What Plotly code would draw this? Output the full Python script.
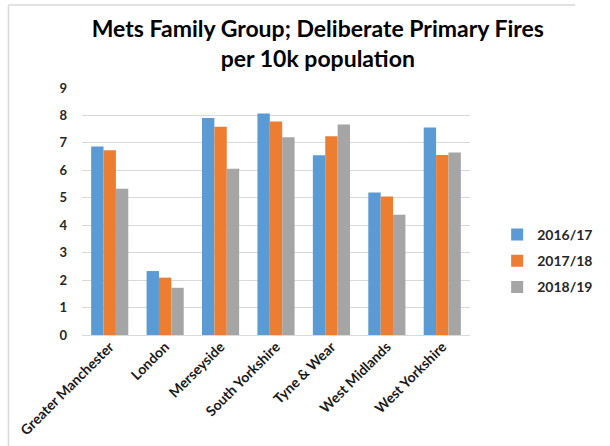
import plotly.graph_objects as go

categories = ["Greater Manchester", "London", "Merseyside", "South Yorkshire",
              "Tyne & Wear", "West Midlands", "West Yorkshire"]
series_names = ["2016/17", "2017/18", "2018/19"]
values_2016_17 = [6.87, 2.33, 7.91, 8.07, 6.55, 5.19, 7.56]
values_2017_18 = [6.73, 2.09, 7.59, 7.78, 7.24, 5.05, 6.56]
values_2018_19 = [5.33, 1.72, 6.06, 7.21, 7.67, 4.38, 6.65]
colors = ["#5B9BD5", "#ED7D31", "#A5A5A5"]

FONT = "Lato"

fig = go.Figure()
for name, vals, col in zip(series_names, [values_2016_17, values_2017_18, values_2018_19], colors):
    fig.add_trace(go.Bar(name="<b>" + name + "</b>", legendgroup=name, x=categories, y=vals,
                         marker=dict(color=col, line=dict(width=0))))

fig.update_layout(
    width=610, height=446,
    margin=dict(l=82, r=111, t=88, b=111),
    paper_bgcolor="white", plot_bgcolor="white",
    barmode="group", bargap=0.33, bargroupgap=0,
    font=dict(family=FONT, color="#262626"),
    title=dict(
        text="<b>Mets Family Group; Deliberate Primary Fires<br>per 10k population</b>",
        x=0.521, xref="container", xanchor="center",
        y=0.916, yref="container", yanchor="bottom",
        font=dict(family=FONT, size=23, color="#000000"),
    ),
    legend=dict(
        x=1.07, xanchor="left", y=0.30, yanchor="middle",
        font=dict(family=FONT, size=14, color="#262626"),
        itemwidth=30, tracegroupgap=5,
        bgcolor="rgba(0,0,0,0)",
    ),
    xaxis=dict(
        tickangle=-45, showgrid=False, showline=False, zeroline=False, ticks="",
        automargin=False,
        tickmode="array", tickvals=categories, ticktext=["<b>" + c + "</b>" for c in categories],
        tickfont=dict(family=FONT, size=14, color="#1A1A1A", weight="bold"),
    ),
    yaxis=dict(
        range=[0, 9], dtick=1, showgrid=True, gridcolor="#D9D9D9", gridwidth=1,
        zeroline=True, zerolinecolor="#D9D9D9", zerolinewidth=1, showline=False, ticks="",
        automargin=False, ticklabelstandoff=14,
        tickfont=dict(family=FONT, size=13, color="#262626", weight="bold"),
    ),
    shapes=[
        dict(type="line", xref="paper", yref="paper",
             x0=(3 - 82) / 417, x1=(612 - 82) / 417, y0=(335 - 5) / 247, y1=(335 - 5) / 247,
             line=dict(color="#D9D9D9", width=1.5)),
        dict(type="line", xref="paper", yref="paper",
             x0=(3 - 82) / 417, x1=(3 - 82) / 417, y0=(335 - 5) / 247, y1=(335 - 448) / 247,
             line=dict(color="#D9D9D9", width=1.5)),
    ],
)

fig.write_html("out.html")
